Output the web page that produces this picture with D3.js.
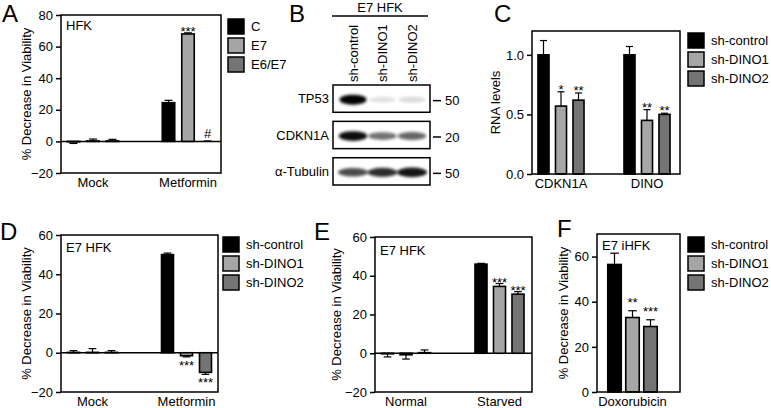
<!DOCTYPE html>
<html>
<head>
<meta charset="utf-8">
<script src="https://cdn.jsdelivr.net/npm/d3@7"></script>
<style>
  body { margin: 0; background: #fff; }
  svg { font-family: "Liberation Sans", Arial, Helvetica, sans-serif; }
</style>
</head>
<body>
<svg id="fig" width="771" height="408"></svg>
<script>
// ---- data ----
const SERIES_A = ["C", "E7", "E6/E7"];
const SERIES_SH = ["sh-control", "sh-DINO1", "sh-DINO2"];

// panel A
const A_GROUPS = ["Mock", "Metformin"];
const A_VALUES = [[-0.3, 0.3, 0.3], [24.5, 68, 0]];
const A_ERRORS = [[1.0, 1.2, 1.0], [1.5, 0.7, 0.3]];
const A_MARKS = [["", "", ""], ["", "***", "#"]];

// panel B (western blot)
const B_LANES = ["sh-control", "sh-DINO1", "sh-DINO2"];
const B_PROTEINS = ["TP53", "CDKN1A", "α-Tubulin"];
const B_MARKERS = ["50", "20", "50"];
const B_SIGNAL = [[1.0, 0.12, 0.14], [0.95, 0.55, 0.6], [0.7, 0.82, 0.92]];

// panel C
const C_GROUPS = ["CDKN1A", "DINO"];
const C_VALUES = [[1.0, 0.57, 0.62], [1.0, 0.45, 0.50]];
const C_ERRORS = [[0.12, 0.12, 0.06], [0.07, 0.09, 0.01]];
const C_MARKS = [["", "*", "**"], ["", "**", "**"]];

// panel D
const D_GROUPS = ["Mock", "Metformin"];
const D_VALUES = [[0.2, 0.2, 0.2], [50, -1.5, -10]];
const D_ERRORS = [[0.9, 1.9, 0.9], [0.8, 0.6, 1.0]];
const D_MARKS = [["", "", ""], ["", "***", "***"]];

// panel E
const E_GROUPS = ["Normal", "Starved"];
const E_VALUES = [[-0.3, -0.8, 0.3], [46, 34.5, 30.5]];
const E_ERRORS = [[1.6, 2.2, 1.4], [0.4, 1.5, 1.3]];
const E_MARKS = [["", "", ""], ["", "***", "***"]];

// panel F
const F_GROUPS = ["Doxorubicin"];
const F_VALUES = [[56.5, 33, 29]];
const F_ERRORS = [[5, 3, 3]];
const F_MARKS = [["", "**", "***"]];

const FILL = ["#000000", "#a6a6a6", "#747474"];
const FIG = d3.select('#fig');

// blur for blot bands
FIG.append('defs').append('filter')
  .attr('id', 'blur').attr('x', '-50%').attr('y', '-100%').attr('width', '200%').attr('height', '300%')
  .append('feGaussianBlur').attr('stdDeviation', 1.6);

function letter(txt, x, y) {
  FIG.append('text').attr('x', x).attr('y', y)
    .attr('font-size', 24).text(txt);
}

function barPanel(p) {
  const g = FIG.append('g');
  const y = d3.scaleLinear().domain(p.domain).range([p.bottom, p.top]);
  const xg = d3.scalePoint().domain(p.groups).range(p.centers);
  const xs = d3.scaleBand().domain(p.series)
    .range([-p.step * 1.5, p.step * 1.5])
    .paddingInner(p.pad).paddingOuter(p.pad / 2);
  const bw = xs.bandwidth();

  // y axis
  const ax = g.append('g')
    .attr('transform', 'translate(' + p.left + ',0)')
    .call(d3.axisLeft(y).tickValues(p.ticks).tickSize(5).tickPadding(3)
      .tickFormat(p.fmt));
  ax.select('.domain').remove();
  ax.selectAll('line').attr('stroke', '#000').attr('stroke-width', 1.5);
  ax.selectAll('text').attr('font-size', 13).attr('fill', '#000')
    .attr('font-family', '"Liberation Sans", Arial, sans-serif');

  // zero line
  if (p.domain[0] < 0) {
    g.append('line').attr('x1', p.left).attr('x2', p.right)
      .attr('y1', y(0)).attr('y2', y(0))
      .attr('stroke', '#000').attr('stroke-width', 1.5);
  }

  // bars, error bars, marks
  p.groups.forEach((grp, i) => {
    p.series.forEach((s, j) => {
      const v = p.values[i][j];
      const e = p.errors[i][j];
      const cx = xg(grp) + xs(s) + bw / 2;
      const sign = v < 0 ? -1 : 1;
      const yEnd = y(v + sign * e);
      g.append('line').attr('x1', cx).attr('x2', cx)
        .attr('y1', y(v)).attr('y2', yEnd)
        .attr('stroke', '#000').attr('stroke-width', 1.2);
      g.append('line').attr('x1', cx - bw * 0.32).attr('x2', cx + bw * 0.32)
        .attr('y1', yEnd).attr('y2', yEnd)
        .attr('stroke', '#000').attr('stroke-width', 1.2);
      g.append('rect')
        .attr('x', xg(grp) + xs(s))
        .attr('y', Math.min(y(v), y(0)))
        .attr('width', bw)
        .attr('height', Math.abs(y(v) - y(0)))
        .attr('fill', FILL[j]).attr('stroke', '#000').attr('stroke-width', 1.6);
      const m = p.marks[i][j];
      if (m) {
        let my;
        if (m === '#') my = yEnd - 3;
        else if (sign < 0) my = yEnd + 13;
        else my = yEnd + p.markDy;
        g.append('text').attr('x', cx).attr('y', my)
          .attr('text-anchor', 'middle')
          .attr('font-size', 13).text(m);
      }
    });
    g.append('text').attr('x', xg(grp)).attr('y', p.bottom + 14)
      .attr('text-anchor', 'middle').attr('font-size', 13).text(grp);
  });

  // frame
  g.append('rect').attr('x', p.left).attr('y', p.top)
    .attr('width', p.right - p.left).attr('height', p.bottom - p.top)
    .attr('fill', 'none').attr('stroke', '#000').attr('stroke-width', 1.5);

  // inner label
  g.append('text').attr('x', p.left + 5).attr('y', p.top + p.tagDy)
    .attr('font-size', 13).text(p.tag);

  // y label
  g.append('text')
    .attr('transform', 'translate(' + p.ylabX + ',' + (p.top + p.bottom) / 2 + ') rotate(-90)')
    .attr('text-anchor', 'middle').attr('font-size', 13).text(p.ylab);

  // legend
  p.series.forEach((s, j) => {
    if (!p.legend) return;
    const ly = p.legY + j * 19;
    g.append('rect').attr('x', p.legX).attr('y', ly).attr('width', 16).attr('height', 15)
      .attr('fill', FILL[j]).attr('stroke', '#000').attr('stroke-width', 1.5);
    g.append('text').attr('x', p.legX + 23).attr('y', ly + 7.5).attr('dy', '0.35em')
      .attr('font-size', 13).text(s);
  });
}

// A
letter('A', 2, 22);
barPanel({
  left: 61, right: 221, top: 15, bottom: 173,
  domain: [-20, 80], ticks: [-20, 0, 20, 40, 60, 80], fmt: d3.format('d'),
  groups: A_GROUPS, series: SERIES_A, values: A_VALUES, errors: A_ERRORS, marks: A_MARKS,
  centers: [93, 188], step: 19.5, pad: 0.36, markDy: 3,
  tag: 'HFK', tagDy: 15, ylab: '% Decrease in Viability', ylabX: 31,
  legend: true, legX: 228, legY: 19
});

// B western blot
letter('B', 289, 22);
(function () {
  const g = FIG.append('g');
  const lx = d3.scalePoint().domain(B_LANES).range([353, 412]);
  const ry = d3.scaleBand().domain(B_PROTEINS).range([85, 185]).paddingInner(0.25);
  g.append('text').attr('x', 380).attr('y', 12).attr('text-anchor', 'middle')
    .attr('font-size', 13).text('E7 HFK');
  g.append('line').attr('x1', 332).attr('x2', 428).attr('y1', 16).attr('y2', 16)
    .attr('stroke', '#000').attr('stroke-width', 1.5);
  B_LANES.forEach(l => {
    g.append('text')
      .attr('transform', 'translate(' + lx(l) + ',82) rotate(-90)')
      .attr('dy', '0.35em').attr('font-size', 13).text(l);
  });
  B_PROTEINS.forEach((pr, i) => {
    const y0 = ry(pr), h = ry.bandwidth(), cy = y0 + h / 2;
    B_LANES.forEach((l, j) => {
      const s = B_SIGNAL[i][j];
      g.append('ellipse').attr('cx', lx(l)).attr('cy', cy + 1)
        .attr('rx', 13.5 + i * 0.8).attr('ry', 2.5 + 2.5 * s)
        .attr('fill', '#000').attr('opacity', s)
        .attr('filter', 'url(#blur)');
    });
    g.append('rect').attr('x', 333).attr('y', y0).attr('width', 97).attr('height', h)
      .attr('fill', 'none').attr('stroke', '#000').attr('stroke-width', 1.5);
    g.append('text').attr('x', 329).attr('y', cy).attr('dy', '0.35em')
      .attr('text-anchor', 'end').attr('font-size', 13).text(pr);
    g.append('line').attr('x1', 433).attr('x2', 441).attr('y1', cy + 2).attr('y2', cy + 2)
      .attr('stroke', '#000').attr('stroke-width', 1.5);
    g.append('text').attr('x', 445).attr('y', cy + 2).attr('dy', '0.35em')
      .attr('font-size', 13).text(B_MARKERS[i]);
  });
})();

// C
letter('C', 494, 22);
barPanel({
  left: 532, right: 680, top: 31, bottom: 174,
  domain: [0, 1.2], ticks: [0, 0.5, 1.0], fmt: d3.format('.1f'),
  groups: C_GROUPS, series: SERIES_SH, values: C_VALUES, errors: C_ERRORS, marks: C_MARKS,
  centers: [561, 647], step: 17.5, pad: 0.37, markDy: 2,
  tag: '', tagDy: 15, ylab: 'RNA levels', ylabX: 500,
  legend: true, legX: 688, legY: 33
});

// D
letter('D', 0, 240);
barPanel({
  left: 61, right: 218, top: 235, bottom: 392,
  domain: [-20, 60], ticks: [-20, 0, 20, 40, 60], fmt: d3.format('d'),
  groups: D_GROUPS, series: SERIES_SH, values: D_VALUES, errors: D_ERRORS, marks: D_MARKS,
  centers: [92.5, 186.5], step: 19, pad: 0.37, markDy: 2,
  tag: 'E7 HFK', tagDy: 17, ylab: '% Decrease in Viability', ylabX: 31,
  legend: true, legX: 223, legY: 237
});

// E
letter('E', 314, 240);
barPanel({
  left: 375, right: 532, top: 237, bottom: 392,
  domain: [-20, 60], ticks: [-20, 0, 20, 40, 60], fmt: d3.format('d'),
  groups: E_GROUPS, series: SERIES_SH, values: E_VALUES, errors: E_ERRORS, marks: E_MARKS,
  centers: [406, 499.5], step: 18.5, pad: 0.35, markDy: 3,
  tag: 'E7 HFK', tagDy: 18, ylab: '% Decrease in Viability', ylabX: 341,
  legend: false
});

// F
letter('F', 557, 237);
barPanel({
  left: 597, right: 680, top: 234, bottom: 392,
  domain: [0, 70], ticks: [0, 20, 40, 60], fmt: d3.format('d'),
  groups: F_GROUPS, series: SERIES_SH, values: F_VALUES, errors: F_ERRORS, marks: F_MARKS,
  centers: [632.5, 632.5], step: 18, pad: 0.25, markDy: -4,
  tag: 'E7 iHFK', tagDy: 16, ylab: '% Decrease in Viability', ylabX: 568,
  legend: true, legX: 688, legY: 237
});
</script>
</body>
</html>
